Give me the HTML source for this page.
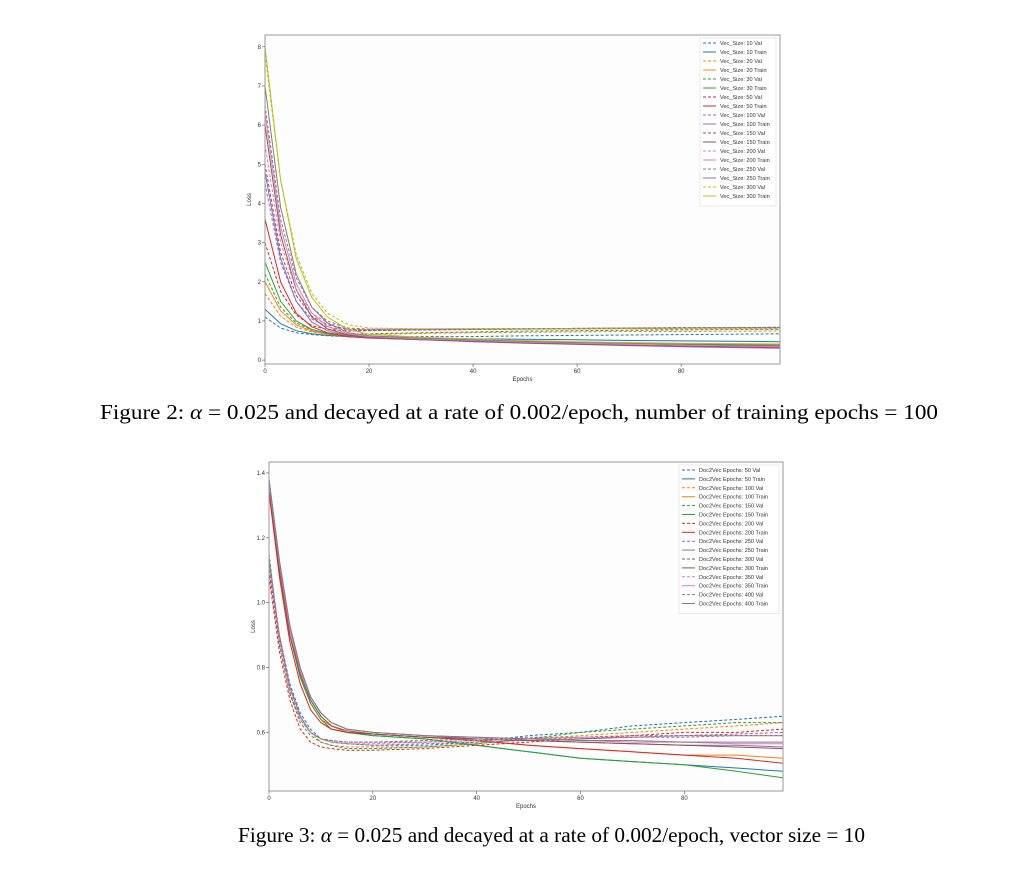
<!DOCTYPE html>
<html><head><meta charset="utf-8">
<style>
html,body{margin:0;padding:0;background:#fff;}
svg{display:block;font-family:"Liberation Sans",sans-serif;}
.cap{font-family:"Liberation Serif",serif;font-size:21px;fill:#000;}
.tk{font-size:6px;fill:#333;}
.lg{font-size:5.6px;fill:#333;}
</style></head>
<body>
<svg id="fig" width="1024" height="877" viewBox="0 0 1024 877">
<text class="cap" x="100" y="419" textLength="838" lengthAdjust="spacingAndGlyphs">Figure 2: <tspan font-style="italic">α</tspan> = 0.025 and decayed at a rate of 0.002/epoch, number of training epochs = 100</text>
<text class="cap" x="238" y="842" textLength="627" lengthAdjust="spacingAndGlyphs">Figure 3:  <tspan font-style="italic">α</tspan> = 0.025 and decayed at a rate of 0.002/epoch, vector size = 10</text>
</svg>
<script>
// ---------- Chart 1 data ----------
const epochs1 = [0,3,6,9,12,16,20,30,40,50,60,70,80,90,99];
const labels1 = ["Vec_Size: 10 Val","Vec_Size: 10 Train","Vec_Size: 20 Val","Vec_Size: 20 Train","Vec_Size: 30 Val","Vec_Size: 30 Train","Vec_Size: 50 Val","Vec_Size: 50 Train","Vec_Size: 100 Val","Vec_Size: 100 Train","Vec_Size: 150 Val","Vec_Size: 150 Train","Vec_Size: 200 Val","Vec_Size: 200 Train","Vec_Size: 250 Val","Vec_Size: 250 Train","Vec_Size: 300 Val","Vec_Size: 300 Train"];
const values1 = [
[1.1,0.82,0.7,0.65,0.62,0.6,0.6,0.6,0.6,0.62,0.63,0.64,0.65,0.66,0.67],
[1.3,0.93,0.75,0.67,0.63,0.6,0.58,0.56,0.54,0.53,0.52,0.5,0.49,0.48,0.47],
[1.7,1.12,0.84,0.72,0.66,0.64,0.65,0.68,0.7,0.71,0.72,0.73,0.73,0.74,0.74],
[2.0,1.26,0.9,0.74,0.66,0.6,0.57,0.54,0.5,0.48,0.46,0.44,0.42,0.4,0.39],
[2.2,1.35,0.95,0.77,0.69,0.66,0.67,0.7,0.72,0.74,0.75,0.76,0.77,0.78,0.78],
[2.5,1.5,1.0,0.78,0.68,0.6,0.57,0.53,0.5,0.47,0.45,0.43,0.4,0.38,0.37],
[3.0,1.75,1.15,0.88,0.78,0.74,0.75,0.77,0.78,0.79,0.8,0.81,0.82,0.82,0.83],
[3.6,2.0,1.2,0.85,0.7,0.6,0.56,0.52,0.48,0.44,0.41,0.38,0.35,0.33,0.32],
[4.5,2.5,1.5,1.05,0.85,0.76,0.76,0.77,0.78,0.79,0.8,0.81,0.82,0.82,0.82],
[4.8,2.6,1.5,0.97,0.75,0.62,0.57,0.52,0.47,0.43,0.4,0.37,0.34,0.32,0.3],
[5.0,2.75,1.65,1.12,0.9,0.78,0.77,0.78,0.79,0.8,0.81,0.82,0.83,0.83,0.84],
[6.0,3.2,1.8,1.1,0.8,0.64,0.58,0.53,0.48,0.44,0.41,0.38,0.36,0.35,0.35],
[5.5,3.0,1.8,1.2,0.95,0.8,0.78,0.78,0.79,0.8,0.81,0.82,0.82,0.83,0.83],
[6.3,3.4,1.95,1.2,0.86,0.67,0.6,0.54,0.5,0.46,0.43,0.4,0.38,0.36,0.35],
[6.5,3.6,2.1,1.35,1.0,0.82,0.79,0.79,0.8,0.8,0.81,0.82,0.82,0.83,0.83],
[7.0,3.9,2.2,1.35,0.95,0.7,0.62,0.56,0.52,0.48,0.45,0.43,0.41,0.4,0.39],
[7.8,4.6,2.7,1.7,1.2,0.9,0.82,0.8,0.8,0.8,0.8,0.8,0.79,0.79,0.79],
[8.0,4.6,2.6,1.6,1.1,0.78,0.66,0.58,0.54,0.5,0.47,0.45,0.43,0.42,0.41]
];
const yTicks1 = [0,1,2,3,4,5,6,7,8];
const xTicks1 = [0,20,40,60,80];

// ---------- Chart 2 data ----------
const epochs2 = [0,2,4,6,8,10,12,15,20,30,40,50,60,70,80,90,99];
const labels2 = ["Doc2Vec Epochs: 50 Val","Doc2Vec Epochs: 50 Train","Doc2Vec Epochs: 100 Val","Doc2Vec Epochs: 100 Train","Doc2Vec Epochs: 150 Val","Doc2Vec Epochs: 150 Train","Doc2Vec Epochs: 200 Val","Doc2Vec Epochs: 200 Train","Doc2Vec Epochs: 250 Val","Doc2Vec Epochs: 250 Train","Doc2Vec Epochs: 300 Val","Doc2Vec Epochs: 300 Train","Doc2Vec Epochs: 350 Val","Doc2Vec Epochs: 350 Train","Doc2Vec Epochs: 400 Val","Doc2Vec Epochs: 400 Train"];
const values2 = [
[1.1,0.9,0.75,0.66,0.61,0.58,0.57,0.565,0.56,0.56,0.57,0.59,0.6,0.62,0.63,0.64,0.65],
[1.38,1.12,0.92,0.78,0.7,0.65,0.62,0.6,0.59,0.58,0.56,0.54,0.52,0.51,0.5,0.49,0.48],
[1.12,0.9,0.74,0.65,0.6,0.57,0.56,0.555,0.555,0.555,0.565,0.58,0.59,0.6,0.61,0.62,0.63],
[1.36,1.1,0.9,0.77,0.69,0.64,0.62,0.6,0.595,0.585,0.575,0.56,0.55,0.54,0.53,0.53,0.52],
[1.15,0.88,0.72,0.63,0.59,0.57,0.56,0.55,0.55,0.555,0.565,0.58,0.6,0.61,0.62,0.63,0.63],
[1.35,1.1,0.9,0.77,0.69,0.64,0.61,0.6,0.59,0.58,0.56,0.54,0.52,0.51,0.5,0.48,0.46],
[1.08,0.85,0.7,0.61,0.57,0.555,0.55,0.545,0.545,0.55,0.56,0.57,0.58,0.59,0.6,0.6,0.61],
[1.34,1.08,0.88,0.75,0.67,0.63,0.61,0.6,0.595,0.585,0.575,0.56,0.55,0.54,0.53,0.52,0.505],
[1.14,0.9,0.74,0.65,0.6,0.58,0.57,0.565,0.56,0.565,0.57,0.575,0.58,0.585,0.585,0.59,0.59],
[1.38,1.13,0.93,0.8,0.71,0.66,0.63,0.61,0.6,0.59,0.58,0.575,0.57,0.565,0.56,0.56,0.555],
[1.1,0.87,0.72,0.64,0.6,0.58,0.575,0.57,0.57,0.57,0.575,0.58,0.58,0.585,0.59,0.59,0.59],
[1.36,1.1,0.9,0.78,0.7,0.65,0.62,0.605,0.595,0.585,0.58,0.575,0.57,0.565,0.56,0.555,0.55],
[1.12,0.88,0.73,0.64,0.6,0.58,0.57,0.565,0.565,0.57,0.575,0.58,0.585,0.585,0.59,0.59,0.59],
[1.37,1.12,0.92,0.79,0.71,0.66,0.63,0.61,0.6,0.59,0.585,0.58,0.575,0.57,0.57,0.565,0.565],
[1.13,0.89,0.74,0.65,0.6,0.58,0.575,0.57,0.57,0.575,0.58,0.585,0.585,0.59,0.59,0.595,0.6],
[1.38,1.13,0.93,0.8,0.71,0.66,0.63,0.61,0.6,0.59,0.585,0.58,0.575,0.575,0.57,0.57,0.57]
];
const yTicks2 = ["0.6","0.8","1.0","1.2","1.4"];
const xTicks2 = [0,20,40,60,80];

const palette = ["#1f77b4","#ff7f0e","#2ca02c","#d62728","#9467bd","#8c564b","#e377c2","#7f7f7f","#bcbd22"];
const NS = "http://www.w3.org/2000/svg";
const svg = document.getElementById("fig");
function mk(tag, attrs, parent){const e=document.createElementNS(NS,tag);for(const k in attrs)e.setAttribute(k,attrs[k]);(parent||svg).appendChild(e);return e;}

function drawChart(cfg){
  const g = mk("g",{});
  
  
  const {L,R,T,B,x0,x1,y0,y1} = cfg;
  const sx = v => L + (v - x0) / (x1 - x0) * (R - L);
  const sy = v => B - (v - y0) / (y1 - y0) * (B - T);
  const bg = mk("rect",{x:L,y:T,width:R-L,height:B-T,fill:"#fdfdfd"},g);
  
  
  cfg.values.forEach((arr,i)=>{
    const pts = arr.map((v,j)=>sx(cfg.epochs[j]).toFixed(1)+","+sy(v).toFixed(1)).join(" ");
    const pl = mk("polyline",{points:pts,fill:"none",stroke:palette[Math.floor(i/2)],"stroke-width":1,"stroke-dasharray":i%2===0?"3,2":"none"},g);
    
    
  });
  const fr = mk("rect",{x:L,y:T,width:R-L,height:B-T,fill:"none",stroke:"#999","stroke-width":1},g);
  
  
  cfg.yTicks.forEach(t=>{
    const y = sy(parseFloat(t));
    mk("line",{x1:L-3,x2:L,y1:y,y2:y,stroke:"#555","stroke-width":0.6},g);
    const tx = mk("text",{x:L-4,y:y+2,class:"tk","text-anchor":"end"},g);
    tx.textContent = t;
    
    
  });
  cfg.xTicks.forEach(t=>{
    const x = sx(t);
    mk("line",{x1:x,x2:x,y1:B,y2:B+3,stroke:"#555","stroke-width":0.6},g);
    const tx = mk("text",{x:x,y:B+9,class:"tk","text-anchor":"middle"},g);
    tx.textContent = t;
    
    
  });
  const xl = mk("text",{x:(L+R)/2,y:B+17,class:"tk","text-anchor":"middle"},g);
  xl.textContent = "Epochs";
  
  
  const yl = mk("text",{x:0,y:0,class:"tk","text-anchor":"middle",transform:`translate(${L-14},${(T+B)/2}) rotate(-90)`},g);
  yl.textContent = "Loss";
  
  
  const lg = mk("g",{},g);
  
  
  const n = cfg.labels.length;
  mk("rect",{x:cfg.lx,y:cfg.ly,width:cfg.lw,height:n*cfg.ls+6,fill:"#fff",stroke:"#ddd","stroke-width":0.6},lg);
  cfg.labels.forEach((lab,i)=>{
    const y = cfg.ly+5+i*cfg.ls;
    const e = mk("g",{},lg);
    
    
    mk("line",{x1:cfg.lx+3,x2:cfg.lx+16,y1:y,y2:y,stroke:palette[Math.floor(i/2)],"stroke-width":1,"stroke-dasharray":i%2===0?"3,2":"none"},e);
    const t = mk("text",{x:cfg.lx+20,y:y+2,class:"lg"},e);
    t.textContent = lab;
  });
}
drawChart({name:"chart-vec-size",L:265,R:780,T:35,B:364,x0:0,x1:99,y0:-0.1,y1:8.3,epochs:epochs1,values:values1,yTicks:yTicks1.map(String),xTicks:xTicks1,labels:labels1,lx:700,ly:38,lw:76,ls:9});
drawChart({name:"chart-doc2vec-epochs",L:269,R:783,T:462,B:791,x0:0,x1:99,y0:0.4192,y1:1.4338,epochs:epochs2,values:values2,yTicks:yTicks2,xTicks:xTicks2,labels:labels2,lx:679,ly:465,lw:100,ls:8.9});
</script>
</body></html>
